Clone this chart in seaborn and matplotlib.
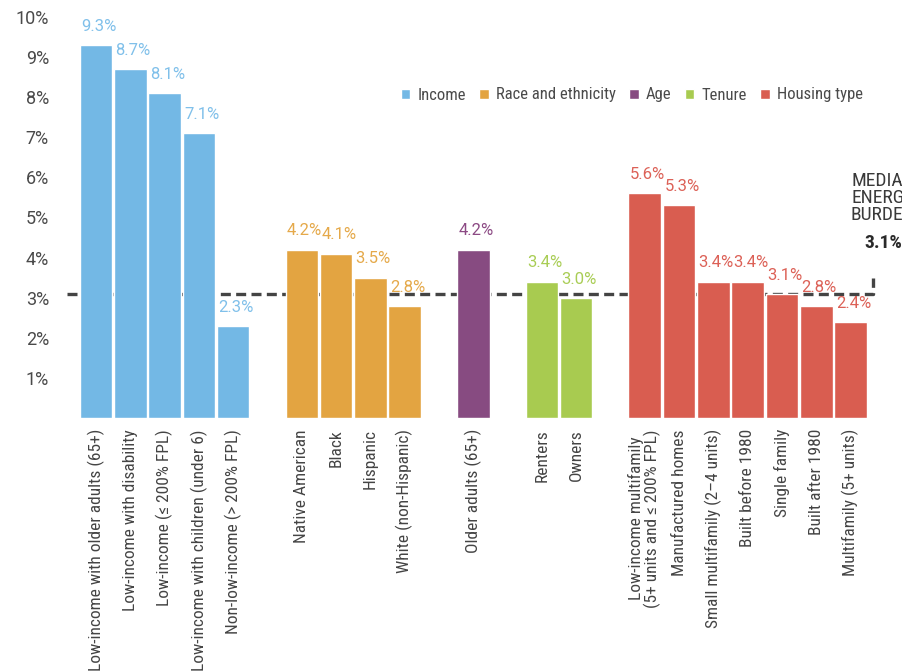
import numpy as np
import pandas as pd
import seaborn as sns
import matplotlib.pyplot as plt
from matplotlib import font_manager

# data
groups = ["Income", "Race and ethnicity", "Age", "Tenure", "Housing type"]
income_labels = ["Low-income with older adults (65+)", "Low-income with disability",
                 "Low-income (≤ 200% FPL)", "Low-income with children (under 6)",
                 "Non-low-income (> 200% FPL)"]
income_values = [9.3, 8.7, 8.1, 7.1, 2.3]
race_labels = ["Native American", "Black", "Hispanic", "White (non-Hispanic)"]
race_values = [4.2, 4.1, 3.5, 2.8]
age_labels = ["Older adults (65+)"]
age_values = [4.2]
tenure_labels = ["Renters", "Owners"]
tenure_values = [3.4, 3.0]
housing_labels = ["Low-income multifamily\n(5+ units and ≤ 200% FPL)", "Manufactured homes",
                  "Small multifamily (2–4 units)", "Built before 1980", "Single family",
                  "Built after 1980", "Multifamily (5+ units)"]
housing_values = [5.6, 5.3, 3.4, 3.4, 3.1, 2.8, 2.4]
median_burden = 3.1
y_ticks = [1, 2, 3, 4, 5, 6, 7, 8, 9, 10]

bar_colors = ["#73B8E5", "#E3A441", "#874B81", "#A8CB50", "#D95D50"]
text_colors = ["#80C0EA", "#E5A94A", "#8C4A84", "#A9CD55", "#DC6157"]

# build one table, leaving an empty slot between groups
rows = []
pos = 0
for g, labs, vals in zip(groups,
                         [income_labels, race_labels, age_labels, tenure_labels, housing_labels],
                         [income_values, race_values, age_values, tenure_values, housing_values]):
    for lab, v in zip(labs, vals):
        rows.append({"pos": pos, "label": lab, "value": v, "group": g})
        pos += 1
    pos += 1
df = pd.DataFrame(rows)

# narrow font for the labels, a wider one for the numbers
installed = {f.name for f in font_manager.fontManager.ttflist}
narrow = next((f for f in ["Roboto Condensed", "Liberation Sans Narrow", "Lato"] if f in installed),
              "DejaVu Sans")
wide = "Roboto" if "Roboto" in installed else "DejaVu Sans"

sns.set_style("white")
plt.rcParams["font.family"] = [narrow, "DejaVu Sans"]

fig = plt.figure(figsize=(9.03, 6.72), dpi=100)
ax = fig.add_axes([60 / 903, 1 - 418 / 672, 830 / 903, 408 / 672])

sns.barplot(data=df, x="pos", y="value", hue="group", hue_order=groups,
            palette=bar_colors, native_scale=True, dodge=False, width=0.95,
            saturation=1, errorbar=None, ax=ax, zorder=3)

# median line with small hook at the right end
x_end = 22.65
ax.plot([-0.85, x_end, x_end], [median_burden, median_burden, median_burden + 0.4],
        color="#444444", lw=2.4, ls=(0, (3.0, 1.6)), zorder=1, clip_on=False)
ax.text(22.95, 6.12, "MEDIAN\nENERGY\nBURDEN", ha="center", va="top", fontsize=14,
        color="#3a3a3a", linespacing=0.92, clip_on=False)
ax.text(22.95, 4.58, f"{median_burden}%", ha="center", va="top", fontsize=14,
        color="#2a2a2a", fontweight="bold", clip_on=False)

# value labels
color_map = dict(zip(groups, text_colors))
for _, r in df.iterrows():
    ax.annotate(f"{r['value']:.1f}%", (r["pos"] - 0.47, r["value"]), xytext=(1, 8),
                textcoords="offset points", ha="left", va="bottom", fontsize=12,
                family=wide, color=color_map[r["group"]])

ax.set_xlim(-1.05, 23.15)
ax.set_ylim(0, 10.17)
ax.set_yticks(y_ticks)
ax.set_yticklabels([f"{t}%" for t in y_ticks], fontsize=13, family=wide, color="#4a4a4a")
ax.set_xticks(df["pos"])
ax.set_xticklabels(df["label"], rotation=90, va="top", ha="center", fontsize=12.5,
                   color="#444444", linespacing=0.95)
ax.tick_params(length=0, pad=8)
ax.set_xlabel("")
ax.set_ylabel("")
sns.despine(ax=ax, left=True, bottom=True)

handles, labels = ax.get_legend_handles_labels()
ax.legend(handles, labels, loc="center", bbox_to_anchor=(632 / 903, 1 - 95 / 672),
          bbox_transform=fig.transFigure, ncol=5, frameon=False, fontsize=12,
          handlelength=0.55, handleheight=0.55, handletextpad=0.45, columnspacing=0.8,
          labelcolor="#4a4a4a")

fig.savefig("out.png", dpi=100)
